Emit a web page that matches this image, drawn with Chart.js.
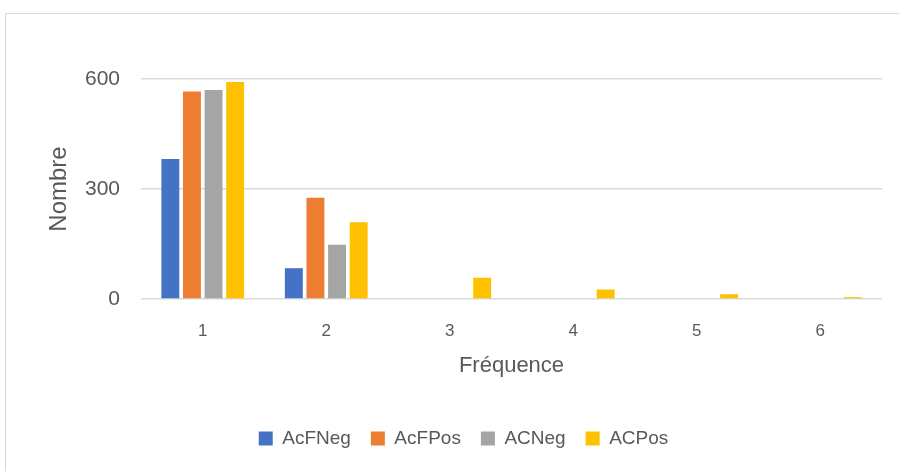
<!DOCTYPE html>
<html>
<head>
<meta charset="utf-8">
<script src="https://cdn.jsdelivr.net/npm/chart.js@4/dist/chart.umd.min.js"></script>
<style>
  body { margin: 0; background: #fff; }
  #frame { position: absolute; left: 5px; top: 13px; width: 900px; height: 470px; border: 1px solid #d9d9d9; box-sizing: border-box; }
  #wrap { position: absolute; left: 0; top: 0; width: 899px; height: 471px; }
</style>
</head>
<body>
<div id="frame"></div>
<div id="wrap"><canvas id="chart"></canvas></div>
<script>
// donnees
var frequences = ['1', '2', '3', '4', '5', '6'];
var acfneg = [382, 84, 0, 0, 0, 0];
var acfpos = [566, 276, 0, 0, 0, 0];
var acneg = [570, 148, 0, 0, 0, 0];
var acpos = [592, 209, 58, 26, 13, 5];
var yTicks = [0, 300, 600];

var police = "'Liberation Sans', Arial, sans-serif";
var gris = '#595959';

new Chart(document.getElementById('chart').getContext('2d'), {
  type: 'bar',
  data: {
    labels: frequences,
    datasets: [
      { label: 'AcFNeg', data: acfneg, backgroundColor: '#4472C4' },
      { label: 'AcFPos', data: acfpos, backgroundColor: '#ED7D31' },
      { label: 'ACNeg', data: acneg, backgroundColor: '#A5A5A5' },
      { label: 'ACPos', data: acpos, backgroundColor: '#FFC000' }
    ]
  },
  options: {
    responsive: true,
    maintainAspectRatio: false,
    animation: false,
    categoryPercentage: 0.7,
    barPercentage: 0.83,
    layout: { padding: { left: 45, right: 17, top: 79, bottom: 13 } },
    plugins: {
      tooltip: { enabled: false },
      legend: {
        position: 'bottom',
        labels: { boxWidth: 14, boxHeight: 14, padding: 20, color: gris, font: { family: police, size: 19 } }
      }
    },
    scales: {
      x: {
        grid: { display: false, drawTicks: false },
        border: { display: false },
        ticks: { color: gris, padding: 22, font: { family: police, size: 17 } },
        title: { display: true, text: 'Fréquence', color: gris, font: { family: police, size: 22 }, padding: { top: 10, bottom: 30 } },
        afterFit: function (s) { s.height = 110; }
      },
      y: {
        min: 0,
        max: 600,
        afterBuildTicks: function (s) { s.ticks = yTicks.map(function (v) { return { value: v }; }); },
        grid: { color: '#d9d9d9', lineWidth: 1.5, drawTicks: false },
        border: { display: false },
        ticks: { color: gris, padding: 21, font: { family: police, size: 21 } },
        title: { display: true, text: 'Nombre', color: gris, font: { family: police, size: 24 }, padding: 0 },
        afterFit: function (s) { s.width = 96; }
      }
    }
  }
});
</script>
</body>
</html>
